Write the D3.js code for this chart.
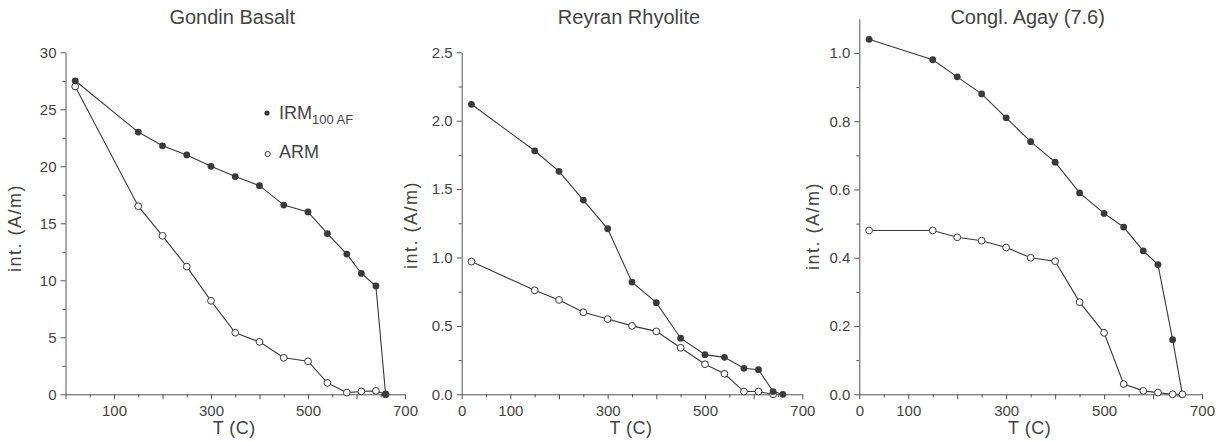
<!DOCTYPE html>
<html>
<head>
<meta charset="utf-8">
<script src="https://cdn.jsdelivr.net/npm/d3@7"></script>
<style>
body { margin: 0; background: #fff; }
svg { font-family: "Liberation Sans", Arial, sans-serif; }
.axis path, .axis line { stroke: #555; }
.axis text { fill: #444; font-size: 15px; }
</style>
</head>
<body>
<svg id="chart" width="1229" height="441"></svg>
<script>
// temperatures of the thermal demagnetisation steps (C)
const temps = [20, 150, 200, 250, 300, 350, 400, 450, 500, 540, 580, 610, 640, 660];
const tempsShort = [20, 150, 200, 250, 300, 350, 400, 450, 500, 540, 580, 610, 640];

// Gondin Basalt
const gondinIRM = [27.5, 23.0, 21.8, 21.0, 20.0, 19.1, 18.3, 16.6, 16.0, 14.1, 12.3, 10.6, 9.5, 0];
const gondinARM = [27.0, 16.5, 13.9, 11.2, 8.2, 5.4, 4.6, 3.2, 2.9, 1.0, 0.15, 0.25, 0.3, 0];

// Reyran Rhyolite
const reyranIRM = [2.12, 1.78, 1.63, 1.42, 1.21, 0.82, 0.67, 0.41, 0.29, 0.27, 0.19, 0.18, 0.02, 0];
const reyranARM = [0.97, 0.76, 0.69, 0.60, 0.55, 0.50, 0.46, 0.34, 0.22, 0.15, 0.02, 0.02, 0.0];

// Congl. Agay (7.6)
const agayIRM = [1.04, 0.98, 0.93, 0.88, 0.81, 0.74, 0.68, 0.59, 0.53, 0.49, 0.42, 0.38, 0.16, 0];
const agayARM = [0.48, 0.48, 0.46, 0.45, 0.43, 0.40, 0.39, 0.27, 0.18, 0.03, 0.01, 0.005, 0, 0];

const titles = ["Gondin Basalt", "Reyran Rhyolite", "Congl. Agay (7.6)"];
const yMaxes = [30, 2.5, 1.1];
const yTicks = [[0, 5, 10, 15, 20, 25, 30], [0, 0.5, 1.0, 1.5, 2.0, 2.5], [0, 0.2, 0.4, 0.6, 0.8, 1.0]];
const yMinor = [2.5, 0.25, 0.1];
const xTicks = [0, 100, 200, 300, 400, 500, 600, 700];
const xLabels = [[100, 300, 500, 700], [0, 100, 300, 500, 700], [0, 100, 300, 500, 700]];

const panels = [
  { left: 65.5, right: 405, top: 52.3, yLab: 21, yLabC: 228, irm: gondinIRM, arm: gondinARM, armT: temps, fmt: d3.format("d"), irmOnTop: true },
  { left: 461.7, right: 802.3, top: 52.3, yLab: 417, yLabC: 225, irm: reyranIRM, arm: reyranARM, armT: tempsShort, fmt: d3.format(".1f"), irmOnTop: true },
  { left: 859.3, right: 1202, top: 18.8, yLab: 819, yLabC: 226, irm: agayIRM, arm: agayARM, armT: temps, fmt: d3.format(".1f"), irmOnTop: false }
];
const bottom = 394.3;
const ink = "#3a3a3a";

const svg = d3.select("#chart");

panels.forEach((p, i) => {
  const x = d3.scaleLinear().domain([0, 700]).range([p.left, p.right]);
  const y = d3.scaleLinear().domain([0, yMaxes[i]]).range([bottom, p.top]);
  const g = svg.append("g");

  // minor ticks
  const xm = d3.range(50, 700, 100);
  g.append("g").attr("class", "axis")
    .attr("transform", `translate(0,${bottom})`)
    .call(d3.axisBottom(x).tickValues(xm).tickSize(3).tickFormat(""))
    .select(".domain").remove();
  const ym = d3.range(yMinor[i], yMaxes[i] - 1e-9, yMinor[i] * 2);
  g.append("g").attr("class", "axis")
    .attr("transform", `translate(${p.left},0)`)
    .call(d3.axisLeft(y).tickValues(ym).tickSize(3).tickFormat(""))
    .select(".domain").remove();

  // main axes
  g.append("g").attr("class", "axis")
    .attr("transform", `translate(0,${bottom})`)
    .call(d3.axisBottom(x).tickValues(xTicks).tickSize(5).tickSizeOuter(0).tickPadding(6)
      .tickFormat(d => xLabels[i].includes(d) ? d : ""));
  g.append("g").attr("class", "axis")
    .attr("transform", `translate(${p.left},0)`)
    .call(d3.axisLeft(y).tickValues(yTicks[i]).tickSize(5).tickSizeOuter(0).tickPadding(4)
      .tickFormat(p.fmt));

  // titles
  g.append("text")
    .attr("x", (p.left + p.right) / 2 - 3).attr("y", 24)
    .attr("text-anchor", "middle").attr("font-size", 20).attr("fill", "#444")
    .text(titles[i]);
  g.append("text")
    .attr("x", (p.left + p.right) / 2 - 1).attr("y", 434)
    .attr("text-anchor", "middle").attr("font-size", 18).attr("fill", "#444")
    .attr("letter-spacing", "0.5px")
    .text("T (C)");
  g.append("text")
    .attr("transform", `translate(${p.yLab},${p.yLabC}) rotate(-90)`)
    .attr("text-anchor", "middle").attr("font-size", 18).attr("fill", "#444")
    .attr("letter-spacing", "1.5px")
    .text("int. (A/m)");

  const line = d3.line().x(d => x(d[0])).y(d => y(d[1]));
  const irmPts = temps.map((t, k) => [t, p.irm[k]]);
  const armPts = p.armT.map((t, k) => [t, p.arm[k]]);

  const drawIRM = () => {
    g.append("path").datum(irmPts).attr("d", line)
      .attr("fill", "none").attr("stroke", ink).attr("stroke-width", 1.1);
    g.selectAll(null).data(irmPts).join("circle")
      .attr("cx", d => x(d[0])).attr("cy", d => y(d[1])).attr("r", 3.4)
      .attr("fill", ink);
  };
  const drawARM = () => {
    g.append("path").datum(armPts).attr("d", line)
      .attr("fill", "none").attr("stroke", ink).attr("stroke-width", 1.1);
    g.selectAll(null).data(armPts).join("circle")
      .attr("cx", d => x(d[0])).attr("cy", d => y(d[1])).attr("r", 3.4)
      .attr("fill", "#fff").attr("stroke", ink).attr("stroke-width", 1);
  };
  if (p.irmOnTop) { drawARM(); drawIRM(); } else { drawIRM(); drawARM(); }
});

// legend (first panel)
const leg = svg.append("g");
leg.append("circle").attr("cx", 267).attr("cy", 113).attr("r", 2.6).attr("fill", ink);
const t1 = leg.append("text").attr("x", 279).attr("y", 118.5).attr("font-size", 18).attr("fill", "#444");
t1.append("tspan").text("IRM");
t1.append("tspan").attr("dy", 5).attr("font-size", 13).text("100 AF");
leg.append("circle").attr("cx", 267.7).attr("cy", 154).attr("r", 2.6)
  .attr("fill", "#fff").attr("stroke", ink);
leg.append("text").attr("x", 279).attr("y", 158).attr("font-size", 18).attr("fill", "#444").text("ARM");
</script>
</body>
</html>
